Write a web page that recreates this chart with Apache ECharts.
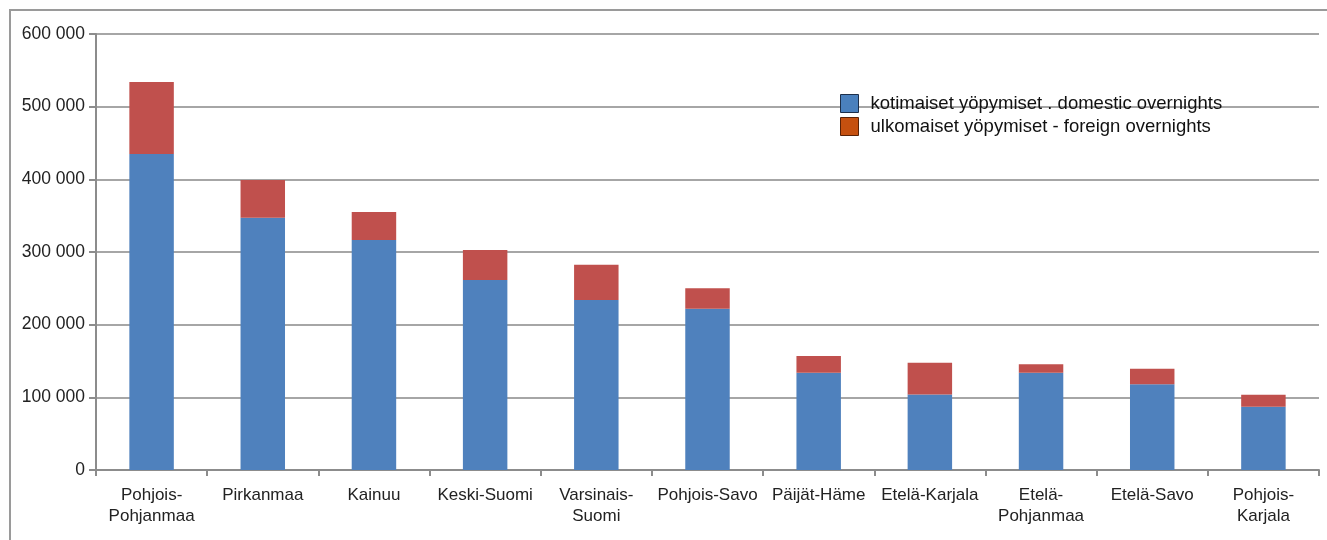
<!DOCTYPE html>
<html>
<head>
<meta charset="utf-8">
<script src="https://cdn.jsdelivr.net/npm/echarts@6/dist/echarts.min.js"></script>
<style>
  html, body { margin: 0; padding: 0; background: #fff; }
  #main { width: 1327px; height: 540px; }
</style>
</head>
<body>
<div id="main"></div>
<script>
// alueet (regions)
const regions = ['Pohjois-\nPohjanmaa', 'Pirkanmaa', 'Kainuu', 'Keski-Suomi', 'Varsinais-\nSuomi',
  'Pohjois-Savo', 'Päijät-Häme', 'Etelä-Karjala', 'Etelä-\nPohjanmaa', 'Etelä-Savo', 'Pohjois-\nKarjala']
// kotimaiset yöpymiset
const domestic = [435000, 347000, 316500, 261400, 234000, 222000, 134000, 104000, 134000, 118000, 87000]
// ulkomaiset yöpymiset
const foreign = [99000, 52000, 38500, 41300, 48600, 28000, 23000, 43700, 11400, 21400, 16600]

const nameDomestic = 'kotimaiset yöpymiset . domestic overnights'
const nameForeign = 'ulkomaiset yöpymiset - foreign overnights'

const chart = echarts.init(document.getElementById('main'))
const axisColor = '#8c8c8c'
chart.setOption({
  animation: false,
  textStyle: { fontFamily: 'Liberation Sans, Arial, sans-serif' },
  graphic: [{
    type: 'rect',
    shape: { x: 10, y: 10, width: 1400, height: 600 },
    style: { fill: 'none', stroke: '#9a9a9a', lineWidth: 2 },
    silent: true
  }],
  grid: { left: 96, right: 8, top: 34, bottom: 70 },
  legend: {
    orient: 'vertical',
    left: 840,
    top: 94,
    icon: 'rect',
    itemWidth: 18,
    itemHeight: 18,
    itemGap: 4,
    padding: 0,
    textStyle: { fontSize: 18.5, color: '#111', padding: [0, 0, 0, 7] },
    data: [
      { name: nameDomestic, itemStyle: { color: '#4a80bd', borderColor: '#1d2f4a', borderWidth: 1 } },
      { name: nameForeign, itemStyle: { color: '#c5500f', borderColor: '#5a2206', borderWidth: 1 } }
    ]
  },
  xAxis: {
    type: 'category',
    data: regions,
    axisLine: { lineStyle: { color: axisColor, width: 2 } },
    axisTick: { show: true, length: 6, lineStyle: { color: axisColor, width: 2 } },
    axisLabel: { fontSize: 17, color: '#222', margin: 15, lineHeight: 21, interval: 0 }
  },
  yAxis: {
    type: 'value',
    min: 0,
    max: 600000,
    interval: 100000,
    axisLine: { show: true, lineStyle: { color: axisColor, width: 2 } },
    axisTick: { show: true, length: 7, lineStyle: { color: axisColor, width: 2 } },
    splitLine: { lineStyle: { color: '#a6a6a6', width: 2 } },
    axisLabel: {
      fontSize: 17.5, color: '#222', margin: 11,
      formatter: v => String(v).replace(/\B(?=(\d{3})+(?!\d))/g, ' ')
    }
  },
  series: [
    {
      name: nameDomestic,
      type: 'bar',
      stack: 'total',
      barWidth: '40%',
      itemStyle: { color: '#4f81bd' },
      data: domestic
    },
    {
      name: nameForeign,
      type: 'bar',
      stack: 'total',
      barWidth: '40%',
      itemStyle: { color: '#c0504d' },
      data: foreign
    }
  ]
})
</script>
</body>
</html>
